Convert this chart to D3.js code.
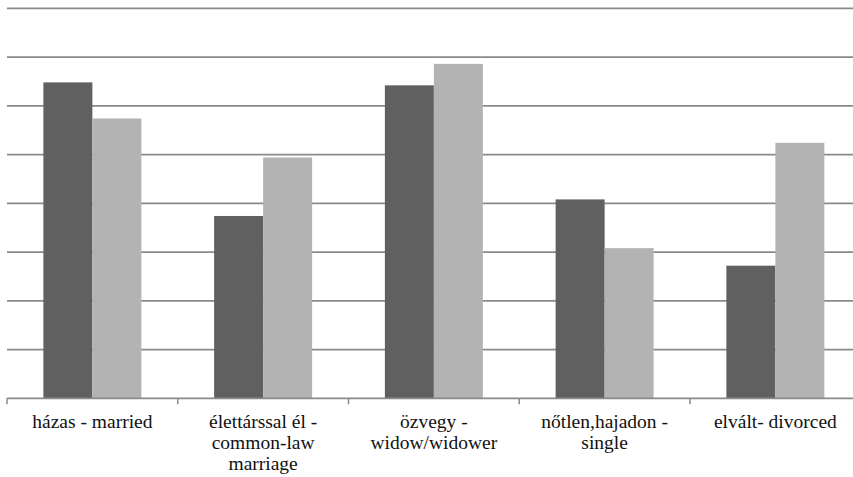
<!DOCTYPE html>
<html>
<head>
<meta charset="utf-8">
<script src="https://cdn.jsdelivr.net/npm/d3@7"></script>
<style>
  html, body { margin: 0; padding: 0; background: #fff; }
  svg { display: block; }
</style>
</head>
<body>
<div id="chart"></div>
<script>
// Categories (each as the lines its label is set on)
const categories = [
  ["házas - married"],
  ["élettárssal él -", "common-law", "marriage"],
  ["özvegy -", "widow/widower"],
  ["nőtlen,hajadon -", "single"],
  ["elvált- divorced"]
];
const seriesNames = ["series1", "series2"];
const series1 = [32.4, 18.7, 32.1, 20.4, 13.6];
const series2 = [28.7, 24.7, 34.3, 15.4, 26.2];
const yTicks = [0, 5, 10, 15, 20, 25, 30, 35, 40];

const width = 853, height = 477;
const margin = { left: 7, top: 8.3, bottom: 78.7 };
const plotRight = 860.75;   // last category runs past the window edge
const colors = ["#606060", "#b3b3b3"];
const gridColor = "#8a8a8a";
const labelFont = '"Liberation Serif", Tinos, "Times New Roman", serif';

const svg = d3.select("#chart").append("svg")
  .attr("width", width).attr("height", height);

const keys = categories.map((c, i) => i);
const x = d3.scaleBand().domain(keys)
  .range([margin.left, plotRight])
  .paddingInner(0.426).paddingOuter(0.213);
const xStep = d3.scaleBand().domain(keys).range([margin.left, plotRight]);
const xSub = d3.scaleBand().domain(seriesNames).range([0, x.bandwidth()]);
const y = d3.scaleLinear().domain([0, 40]).range([height - margin.bottom, margin.top]);

// horizontal gridlines
svg.append("g").selectAll("line")
  .data(yTicks.filter(t => t > 0))
  .join("line")
  .attr("x1", margin.left).attr("x2", plotRight)
  .attr("y1", d => y(d)).attr("y2", d => y(d))
  .attr("stroke", gridColor).attr("stroke-width", 1.8);

// bars
const rows = categories.map((c, i) => ({ i, values: [series1[i], series2[i]] }));
const groups = svg.append("g").selectAll("g")
  .data(rows).join("g")
  .attr("transform", d => `translate(${x(d.i)},0)`);
groups.selectAll("rect")
  .data(d => d.values.map((v, k) => ({ v, k })))
  .join("rect")
  .attr("x", d => xSub(seriesNames[d.k]))
  .attr("width", xSub.bandwidth())
  .attr("y", d => y(d.v))
  .attr("height", d => y(0) - y(d.v))
  .attr("fill", d => colors[d.k]);

// category axis: baseline and boundary ticks
const axisY = y(0);
svg.append("line")
  .attr("x1", margin.left).attr("x2", plotRight)
  .attr("y1", axisY).attr("y2", axisY)
  .attr("stroke", gridColor).attr("stroke-width", 1.8);
svg.append("g").selectAll("line")
  .data(keys.concat([keys.length]))
  .join("line")
  .attr("x1", d => d < keys.length ? xStep(d) : plotRight)
  .attr("x2", d => d < keys.length ? xStep(d) : plotRight)
  .attr("y1", axisY).attr("y2", axisY + 6)
  .attr("stroke", gridColor).attr("stroke-width", 1.5);

// category labels, one text element per line
const labelLines = rows.flatMap(d => categories[d.i].map((line, k) => ({
  line, k, cx: x(d.i) + x.bandwidth() / 2
})));
svg.append("g").selectAll("text")
  .data(labelLines).join("text")
  .style("font-family", labelFont)
  .style("font-size", "19.5px")
  .attr("fill", "#111")
  .attr("text-anchor", "middle")
  .attr("x", d => d.cx)
  .attr("y", d => axisY + 29.5 + d.k * 21)
  .text(d => d.line);
</script>
</body>
</html>
